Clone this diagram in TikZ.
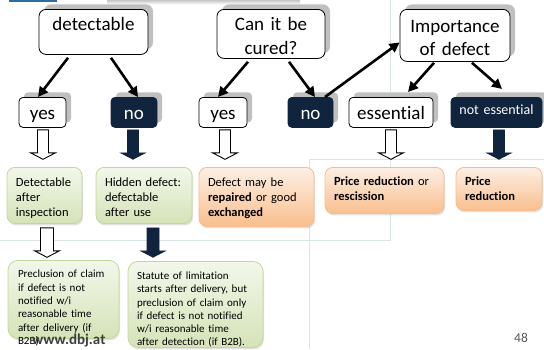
\documentclass[tikz,border=0pt]{standalone}
\usepackage{fontspec}
\setmainfont{Carlito}[Ligatures=NoCommon]
\usetikzlibrary{arrows.meta,shadows,calc}

\definecolor{navy}{HTML}{10243E}
\definecolor{shadowgray}{HTML}{C0C0C0}
\definecolor{greenline}{HTML}{C3D69B}
\definecolor{greentop}{HTML}{F2F7EA}
\definecolor{greenbot}{HTML}{D5E3B8}
\definecolor{orangeline}{HTML}{F6BC8C}
\definecolor{orangetop}{HTML}{FDEFE4}
\definecolor{orangebot}{HTML}{F9BF8E}
\definecolor{guide}{HTML}{DCE5E6}
\definecolor{barblue}{HTML}{2E6DA4}
\definecolor{urlgray}{HTML}{3F3F3F}

\tikzset{
  question/.style={draw=black, line width=0.8pt, fill=white, rounded corners=7pt,
    anchor=north, inner sep=0pt, align=center,
    font=\fontsize{19}{23.5}\selectfont,
    drop shadow={shadow xshift=5pt, shadow yshift=5pt, fill=shadowgray, opacity=1}},
  answer/.style={draw=black, line width=0.8pt, fill=white, rounded corners=4pt,
    anchor=north, inner sep=0pt, align=center,
    font=\fontsize{19}{23}\selectfont, text height=22pt, text depth=8pt,
    drop shadow={shadow xshift=5pt, shadow yshift=5pt, fill=shadowgray, opacity=1}},
  darkanswer/.style={answer, fill=navy, draw=navy, text=white},
  resultbox/.style={line width=0.8pt, rounded corners=8pt, anchor=north,
    inner xsep=9pt, inner ysep=0pt, align=left,
    font=\fontsize{12.5}{15}\selectfont,
    drop shadow={shadow xshift=1pt, shadow yshift=-2pt, fill=black!45, opacity=0.25}},
  greenbox/.style={resultbox, draw=greenline, top color=greentop, bottom color=greenbot},
  orangebox/.style={resultbox, draw=orangeline, top color=orangetop, bottom color=orangebot},
  notebox/.style={greenbox, rounded corners=10pt, font=\fontsize{11}{13.3}\selectfont},
  link/.style={line width=2.6pt, -{Triangle[length=10pt,width=10pt]}},
  hollowarrow/.style={draw=black, line width=0.9pt, fill=white},
  solidarrow/.style={draw=navy, line width=0.6pt, fill=navy},
  guideline/.style={draw=guide, line width=0.8pt},
  pics/blockarrow/.style={code={
    \path[pic actions] (-#1/2,0) -- (#1/2,0) -- (#1/2,23) -- (12.5,23)
      -- (0,29.5) -- (-12.5,23) -- (-#1/2,23) -- cycle;}}
}

\begin{document}
\begin{tikzpicture}[x=1pt, y=-1pt]
\useasboundingbox (0,0) rectangle (544,349);

% slide frame remnants
\fill[barblue] (9,0) rectangle (57,2.2);
\shade[top color=black!22, bottom color=white] (107,0) rectangle (300,4.5);
\draw[guideline] (0,240) -- (390,240) -- (390,0);
\draw[guideline] (544,159) -- (309,159) -- (309,349);

% questions
\node[question, text width=109pt, text height=21.5pt, text depth=23.5pt] (detect) at (93.5,9) {detectable};
\node[question, text width=108pt, text height=21.5pt, text depth=27.5pt] (cure) at (271,9) {Can it be\\cured?};
\node[question, text width=110pt, text height=23pt, text depth=29pt] (importance) at (455,9) {Importance\\of defect};

% answers
\node[answer, text width=47pt] (yesA) at (42.5,97) {yes};
\node[darkanswer, text width=46pt] (noA) at (134,97) {no};
\node[answer, text width=48pt] (yesB) at (223,97) {yes};
\node[darkanswer, text width=45pt] (noB) at (310.5,97) {no};
\node[answer, text width=84pt] (essential) at (391,97) {essential};
\node[darkanswer, text width=91pt, font=\fontsize{14}{17}\selectfont,
      text height=17pt, text depth=13pt] (notessential) at (496.5,97) {not essential};

% decision links
\draw[link] ($(detect.south)+(-25.5,3)$) -- ($(yesA.north)+(-4.5,0)$);
\draw[link] ($(detect.south)+(17.5,3)$) -- ($(noA.north)+(4,0)$);
\draw[link] ($(cure.south)+(-23,3)$) -- ($(yesB.north)+(-5,0)$);
\draw[link] ($(cure.south)+(18,3)$) -- ($(noB.north)+(4.5,0)$);
\draw[link] ($(noB.north)+(14.5,0)$) -- ($(importance.west)+(0,7)$);
\draw[link] ($(importance.south)+(-21,1)$) -- ($(essential.north)+(17,-5)$);
\draw[link] ($(importance.south)+(17,1)$) -- ($(notessential.north)+(5.5,-8)$);

% consequences
\node[greenbox, text width=57pt, text height=19pt, text depth=37pt] (inspect) at (44.5,167) {Detectable\\after\\inspection};
\node[greenbox, text width=78pt, text height=19pt, text depth=37pt] (hidden) at (144,167) {Hidden defect:\\defectable\\after use};
\node[orangebox, text width=97pt, text height=19pt, text depth=40pt] (repair) at (256.5,167) {Defect may be\\\textbf{repaired} or good\\\textbf{exchanged}};
\node[orangebox, text width=101pt, text height=18pt, text depth=28pt] (rescind) at (384.5,167) {\textbf{Price reduction} or\\\textbf{rescission}};
\node[orangebox, text width=68pt, text height=18pt, text depth=25pt] (reduce) at (499,167) {\textbf{Price}\\\textbf{reduction}};

% block arrows from answers to consequences
\pic[hollowarrow] at ($(yesA.south)+(0.5,2)$) {blockarrow=11};
\pic[solidarrow] at ($(noA.south)+(-1,2)$) {blockarrow=11};
\pic[hollowarrow] at ($(yesB.south)+(2,2)$) {blockarrow=11};
\pic[hollowarrow] at ($(essential.south)+(0,2)$) {blockarrow=11};
\pic[solidarrow] at ($(notessential.south)+(2.5,2)$) {blockarrow=11};

% notification rules
\pic[hollowarrow] at ($(inspect.south)+(2.5,4)$) {blockarrow=13};
\pic[solidarrow] at ($(hidden.south)+(9,4)$) {blockarrow=12};

\node[notebox, text width=91pt, inner xsep=10pt, text height=17.5pt, text depth=60.5pt] (preclusion) at (63.5,260)
  {Preclusion of claim\\if defect is not\\notified w/i\\reasonable time\\after delivery (if\\B2B)};
\node[notebox, text width=117pt, text height=18pt, text depth=68pt] (statute) at (195.5,261)
  {Statute of limitation\\starts after delivery, but\\preclusion of claim only\\if defect is not notified\\w/i reasonable time\\after detection (if B2B).};

% footer
\node[anchor=base west, inner sep=0pt, text=urlgray, font=\fontsize{15}{18}\selectfont\bfseries] (url) at (32,344) {www.dbj.at};
\node[anchor=base west, inner sep=0pt, text=black!65, font=\fontsize{13.5}{16}\selectfont] (pagenum) at (514,342.5) {48};
\end{tikzpicture}
\end{document}
